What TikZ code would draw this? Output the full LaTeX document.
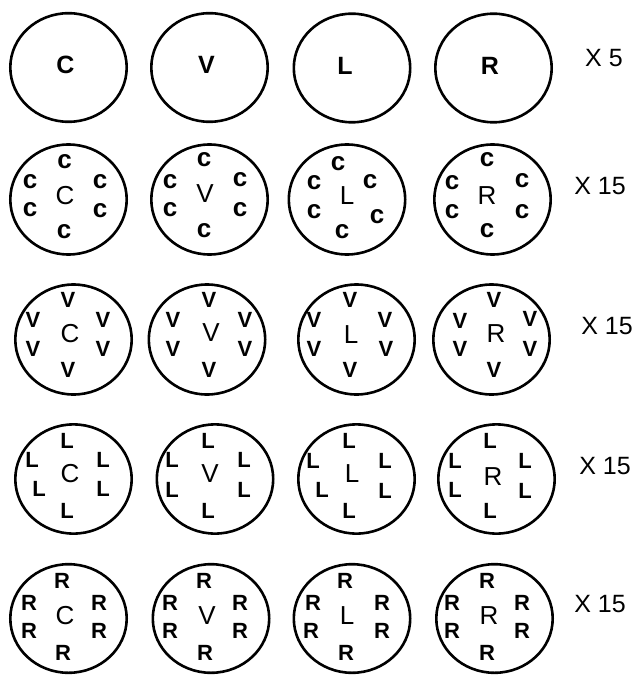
\documentclass[tikz,border=0pt]{standalone}
\usepackage{fontspec}
\setmainfont{Liberation Sans}
\usetikzlibrary{shapes.geometric}
\tikzset{
  ring/.style={draw, line width=2.6pt, ellipse, inner sep=0pt, minimum width=116.4pt, minimum height=108.6pt},
  topltr/.style={inner sep=0pt, font=\fontsize{25}{25}\selectfont\bfseries},
  midltr/.style={inner sep=0pt, font=\fontsize{26}{26}\selectfont},
  outltr/.style={inner sep=0pt, font=\fontsize{22}{22}\selectfont\bfseries},
  outc/.style={inner sep=0pt, font=\fontsize{26}{26}\selectfont\bfseries},
  count/.style={inner sep=0pt, font=\fontsize{25}{25}\selectfont}
}
\newcommand\sixltr[9]{%
  \node[#2] (#1-t) at (#4) {#3};
  \node[#2] (#1-ul) at (#5) {#3};
  \node[#2] (#1-ll) at (#6) {#3};
  \node[#2] (#1-ur) at (#7) {#3};
  \node[#2] (#1-lr) at (#8) {#3};
  \node[#2] (#1-b) at (#9) {#3};
}
\begin{document}
\begin{tikzpicture}[x=1pt,y=-1pt]
\useasboundingbox (0,0) rectangle (638,676);
% ---------- row 1
\node[ring] (r1c1) at (68.5,67.5) {};
\node[ring] (r1c2) at (209.5,67.5) {};
\node[ring] (r1c3) at (352,68) {};
\node[ring] (r1c4) at (493.5,68) {};
\node[topltr] (r1c1m) at (65.5,65) {C};
\node[topltr] (r1c2m) at (206.5,65) {V};
\node[topltr] (r1c3m) at (345,66) {L};
\node[topltr] (r1c4m) at (490,66) {R};
\node[count] (r1n) at (604,58) {X 5};
% ---------- row 2
\node[ring, minimum height=110pt] (r2c1) at (68.5,199.5) {};
\node[ring, minimum height=110pt] (r2c2) at (209.5,199.5) {};
\node[ring, minimum height=110pt] (r2c3) at (347,199.5) {};
\node[ring, minimum height=110pt] (r2c4) at (492.5,199.5) {};
\node[midltr] (r2c1m) at (65,196) {C};
\node[midltr] (r2c2m) at (205,194) {V};
\node[midltr] (r2c3m) at (347,196) {L};
\node[midltr] (r2c4m) at (487,196) {R};
\sixltr{r2c1o}{outc}{c}{64.5,162}{30,182}{30,210}{100,182}{100,211}{64,232}
\sixltr{r2c2o}{outc}{c}{204,160}{170,182}{170,210}{240,180}{240,210}{204,231}
\sixltr{r2c3o}{outc}{c}{338,164}{314,183}{314,212}{370,182}{377,217}{342,232}
\sixltr{r2c4o}{outc}{c}{487,160}{452,183}{452,212}{522,181}{522,212}{487,231}
\node[count] (r2n) at (600,186) {X 15};
% ---------- row 3
\node[ring, minimum height=110pt] (r3c1) at (73.5,339.5) {};
\node[ring, minimum height=110pt] (r3c2) at (207,339.5) {};
\node[ring, minimum height=110pt] (r3c3) at (356.5,339.5) {};
\node[ring, minimum height=110pt] (r3c4) at (491.5,339.5) {};
\node[midltr] (r3c1m) at (70,334) {C};
\node[midltr] (r3c2m) at (211,333) {V};
\node[midltr] (r3c3m) at (351,335) {L};
\node[midltr] (r3c4m) at (496,334) {R};
\sixltr{r3c1o}{outltr}{V}{68,300}{33,320}{33,349}{103,320}{103,349}{68,370}
\sixltr{r3c2o}{outltr}{V}{209,300}{173,320}{173,349}{245,320}{245,349}{209,370}
\sixltr{r3c3o}{outltr}{V}{350,300}{314,320}{314,349}{385,320}{386,349}{350,370}
\sixltr{r3c4o}{outltr}{V}{494,300}{460,321}{460,349}{530,319}{530,349}{494,370}
\node[count] (r3n) at (607,326) {X 15};
% ---------- row 4
\node[ring, minimum height=109.2pt] (r4c1) at (73.5,479) {};
\node[ring, minimum height=109.2pt] (r4c2) at (215,479) {};
\node[ring, minimum height=109.2pt] (r4c3) at (356.5,479) {};
\node[ring, minimum height=109.2pt] (r4c4) at (496.5,479) {};
\node[midltr] (r4c1m) at (70,474) {C};
\node[midltr] (r4c2m) at (210,474) {V};
\node[midltr] (r4c3m) at (352,474) {L};
\node[midltr] (r4c4m) at (493,477) {R};
\sixltr{r4c1o}{outltr}{L}{67,441}{32,460}{39,489}{103,460}{103,489}{67,511}
\sixltr{r4c2o}{outltr}{L}{208,441}{172,460}{172,490}{244,460}{244,490}{208,511}
\sixltr{r4c3o}{outltr}{L}{349,441}{313,461}{322,490}{385,461}{385,491}{349,511}
\sixltr{r4c4o}{outltr}{L}{490,441}{455,461}{455,490}{525,461}{525,491}{490,511}
\node[count] (r4n) at (605,466) {X 15};
% ---------- row 5
\node[ring] (r5c1) at (68.5,618.5) {};
\node[ring] (r5c2) at (211,618.5) {};
\node[ring] (r5c3) at (352,618.5) {};
\node[ring] (r5c4) at (494.5,618.5) {};
\node[midltr] (r5c1m) at (65,616) {C};
\node[midltr] (r5c2m) at (207,616) {V};
\node[midltr] (r5c3m) at (347,616) {L};
\node[midltr] (r5c4m) at (489,616) {R};
\sixltr{r5c1o}{outltr}{R}{62,581}{29,603}{29,631}{99,603}{99,631}{63,653}
\sixltr{r5c2o}{outltr}{R}{204,581}{170,603}{170,631}{240,603}{240,631}{205,653}
\sixltr{r5c3o}{outltr}{R}{345,581}{313,603}{311,631}{382,603}{382,631}{346,653}
\sixltr{r5c4o}{outltr}{R}{487,581}{452,603}{452,631}{522,603}{522,631}{487,653}
\node[count] (r5n) at (600,604) {X 15};
\end{tikzpicture}
\end{document}
